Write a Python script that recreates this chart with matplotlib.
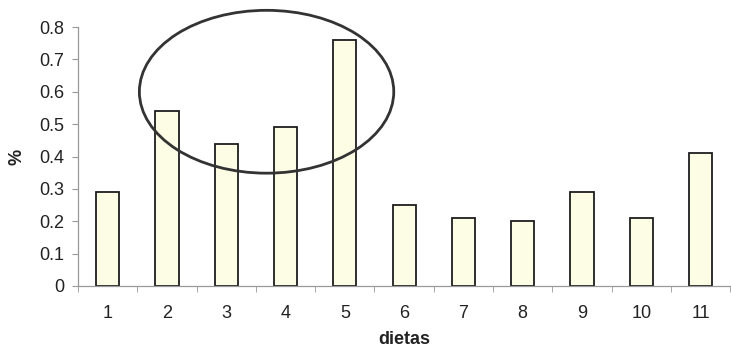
import matplotlib
matplotlib.use("Agg")
import matplotlib.pyplot as plt
from matplotlib.patches import Ellipse

categories = ["1", "2", "3", "4", "5", "6", "7", "8", "9", "10", "11"]
values = [0.29, 0.54, 0.44, 0.49, 0.76, 0.25, 0.21, 0.20, 0.29, 0.21, 0.41]
yticks = [0, 0.1, 0.2, 0.3, 0.4, 0.5, 0.6, 0.7, 0.8]
ytick_labels = ["0", "0.1", "0.2", "0.3", "0.4", "0.5", "0.6", "0.7", "0.8"]

plt.rcParams['font.family'] = ['Liberation Sans', 'DejaVu Sans']

fig = plt.figure(figsize=(7.31, 3.53), dpi=100)
ax = fig.add_axes([78/731, (353-286)/353, 1 - 78/731 - 0.001, (286-27)/353])

x = list(range(len(categories)))
ax.bar(x, values, width=0.39, color="#fdfde6", edgecolor="#1e1e1e", linewidth=1.3, zorder=2)

ax.set_xlim(-0.5, len(categories) - 0.5)
ax.set_ylim(0, 0.8)
ax.set_yticks(yticks)
ax.set_yticklabels(ytick_labels)
ax.set_xticks(x)
ax.set_xticklabels(categories)
ax.tick_params(axis='x', which='major', length=0, pad=14, labelsize=13, colors="#222222")
ax.set_xticks([i - 0.5 for i in range(len(categories) + 1)], minor=True)
ax.tick_params(axis='x', which='minor', length=4, direction='out', color="#999999")
ax.tick_params(axis='y', length=4, direction='out', color="#999999", labelsize=13, labelcolor="#222222", pad=6)

for s in ["top", "right"]:
    ax.spines[s].set_visible(False)
for s in ["left", "bottom"]:
    ax.spines[s].set_color("#999999")
    ax.spines[s].set_linewidth(0.9)

ax.set_xlabel("dietas", fontsize=13, fontweight='bold', color="#222222")
ax.xaxis.set_label_coords(0.5, -0.175)
ax.set_ylabel("%", fontsize=13, fontweight='bold', color="#222222")
ax.yaxis.set_label_coords(-0.081, 0.5)

# annotation ellipse around diets 2-5
ell = Ellipse((2.68, 0.60), width=4.29, height=0.503, fill=False, edgecolor="#333333", linewidth=2.0, zorder=3, clip_on=False)
ax.add_patch(ell)

fig.savefig("out.png", dpi=100)
